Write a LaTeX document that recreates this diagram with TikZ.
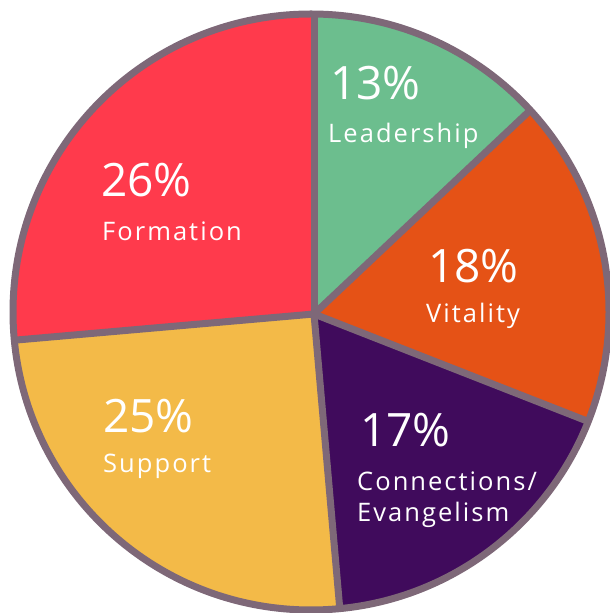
\documentclass[tikz,border=0pt]{standalone}
\usepackage{fontspec}
\setmainfont{Open Sans}
\usepackage{tikz}

\definecolor{ringgray}{HTML}{7E6878}
\definecolor{leadgreen}{HTML}{6CBE8E}
\definecolor{vitorange}{HTML}{E55216}
\definecolor{connpurple}{HTML}{400B5C}
\definecolor{suppyellow}{HTML}{F3BA48}
\definecolor{formred}{HTML}{FF3A4C}

\tikzset{
    pct/.style = {
        text=white,
        font=\fontsize{46}{46}\selectfont,
        inner sep=0pt,
        anchor=base west
    },
    tag/.style = {
        text=white,
        font=\fontsize{25.5}{31}\selectfont\addfontfeature{LetterSpace=8},
        inner sep=0pt,
        anchor=base west,
        align=left
    },
    spoke/.style = {
        draw=ringgray,
        line width=7pt
    }
}

\begin{document}
\begin{tikzpicture}[x=1pt, y=1pt]

\useasboundingbox (0,0) rectangle (610,613);

% centre of the slices
\coordinate (hub) at (314,299);

% Slices, clipped to the disc
\begin{scope}
    \clip (311,301) circle (298pt);
    \begin{scope}[shift={(hub)}]
        \fill[leadgreen]  (0,0) -- (90:600) -- (43.3:600) -- cycle;
        \fill[vitorange]  (0,0) -- (43.3:600) -- (10:600) -- (-21.4:600) -- cycle;
        \fill[connpurple] (0,0) -- (-21.4:600) -- (-55:600) -- (-85:600) -- cycle;
        \fill[suppyellow] (0,0) -- (-85:600) -- (-130:600) -- (-175:600) -- cycle;
        \fill[formred]    (0,0) -- (185:600) -- (137:600) -- (90:600) -- cycle;
    \end{scope}
    % dividing lines
    \foreach \ang in {90, 43.3, -21.4, -85, 185}
        \draw[spoke] (hub) -- ++(\ang:340);
\end{scope}

% outer ring
\draw[spoke] (311,301) circle (298pt);

% Leadership
\node[pct] (p13) at (330,513) {13\%};
\node[tag] (lead) at (328,470) {Leadership};

% Formation
\node[pct] (p26) at (101,416) {26\%};
\node[tag] (form) at (102,372) {Formation};

% Vitality
\node[pct] (p18) at (428,330) {18\%};
\node[tag] (vita) at (426,290) {Vitality};

% Support
\node[pct] (p25) at (103,180) {25\%};
\node[tag] (supp) at (103,140) {Support};

% Connections / Evangelism (base is the last line)
\node[pct] (p17) at (360,166) {17\%};
\node[tag] (conn) at (357,91) {Connections/\\Evangelism};

\end{tikzpicture}
\end{document}
